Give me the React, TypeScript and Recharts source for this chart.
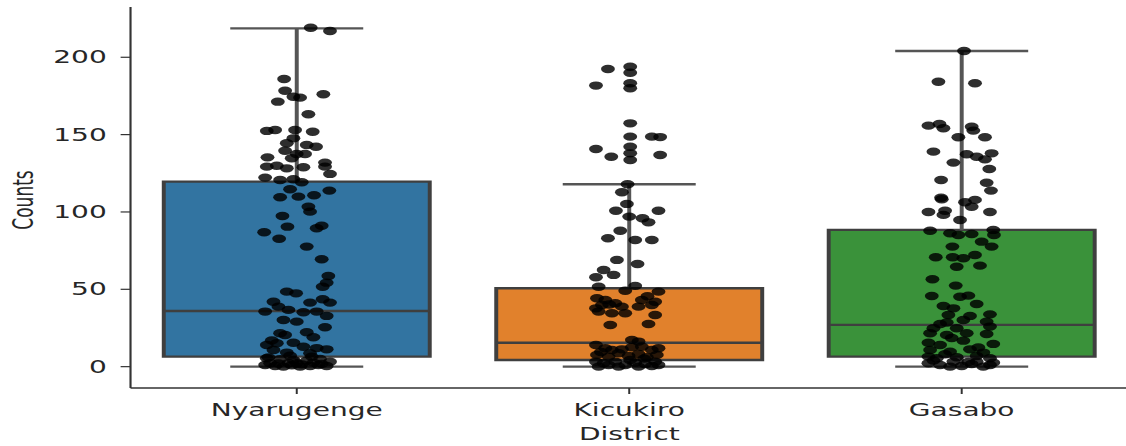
import { ComposedChart, XAxis, YAxis, Scatter, ReferenceArea, ReferenceLine } from "recharts";

// categories + box stats
const districts = ["Nyarugenge", "Kicukiro", "Gasabo"];
const boxColors = ["#3274a1", "#e1812c", "#3a923a"];
const whiskerLow = [0, 0, 0];
const q1 = [6.5, 4.3, 6.5];
const median = [36, 15.5, 27];
const q3 = [119.6, 50.7, 88.4];
const whiskerHigh = [218.7, 117.9, 204.1];
const yTicks = [0, 50, 100, 150, 200];

// strip points: counts and horizontal jitter (in category units)
const nyarugengeCounts = [
  219.1, 217, 186, 178.4, 174.5, 173.9, 176.1, 171.3, 163.2, 152.4, 153, 153, 151.9, 147.6, 144.4, 143.3,
  142.2, 139.6, 137.5, 137.5, 135.3, 134.7, 131.9, 129.3, 129.9, 128.2, 128.9, 129.3, 124.6, 122.2, 120.7,
  121.1, 119.2, 114.7, 113.8, 109.5, 109.9, 110.8, 103.4, 100.2, 97.4, 91.1, 89.5, 90.5, 86.9, 82.7, 77.6,
  69.4, 58.6, 54.3, 51.7, 48.5, 47.4, 42, 41.4, 43.6, 41.4, 38.8, 35.6, 36.7, 35.2, 35.6, 32.8, 30.2, 29.1,
  25.5, 21.6, 22.2, 20.5, 19, 14, 15.1, 15.5, 12.9, 11.2, 10.8, 9.1, 8.7, 5.4, 4.8, 4.3, 3.9, 5, 3.2,
  1.1, 0.4, 0, 0.9, 0, 0.4, 1.1, 0.4, 2.2, 2.2, 2.6, 2.2, 6, 2, 7, 1.5, 6.5, 1.8, 12, 17,
];
const nyarugengeJitter = [
  0.042, 0.1, -0.038, -0.035, -0.01, 0.01, 0.08, -0.057, 0.035, -0.09, -0.065, -0.005, 0.048, -0.01, -0.03, 0.03,
  0.058, -0.035, 0, 0.025, -0.088, -0.015, 0.085, -0.09, -0.06, -0.03, 0.02, 0.085, 0.1, -0.095, -0.05,
  -0.01, 0.015, -0.02, 0.098, -0.05, 0.005, 0.052, 0.035, 0.04, -0.043, 0.075, 0.06, -0.028, -0.098, -0.053, 0.03,
  0.075, 0.095, 0.09, 0.078, -0.03, -0.002, -0.07, 0.04, 0.078, 0.1, -0.055, -0.095, -0.025, 0.02, 0.06, 0.09, -0.04, 0,
  0.085, -0.05, 0.03, -0.035, 0.05, -0.09, -0.06, -0.01, 0.02, 0.09, -0.07, -0.03, 0.04, -0.09, -0.05, -0.01, 0.03, 0.07, 0.1,
  -0.095, -0.065, -0.04, -0.015, 0.01, 0.04, 0.065, 0.09, -0.08, -0.025, 0.05, 0, -0.085, -0.055, -0.02, 0.015, 0.045, 0.075, 0.06, -0.075,
];

const kicukiroCounts = [
  192.4, 193.9, 190, 183.2, 180, 181.7, 157.3, 148.7, 142.2, 137.9, 133.6, 148.7, 148.4, 140.7, 135.7, 136.8,
  117.9, 112.7, 105.2, 100.8, 100.8, 97, 95.9, 93.3, 87.9, 83, 81.9, 81.9, 69, 66.4, 62.5, 57.8, 59.3, 51.7,
  52.2, 49.1, 48.5, 44.2, 43.1, 43.1, 42, 41, 37.7, 39.9, 38.8, 38.8, 39.9, 35.6, 34.5, 34.5, 33.4, 26.9, 27.6,
  17.3, 16.2, 14, 11.9, 10.8, 11.2, 12.5, 12.9, 10.8, 11.9, 7.6, 6.5, 8.7, 6.9, 8.2, 6.1, 7.6,
  3.2, 2.2, 3.2, 1.1, 2.6, 1.7, 3.2, 0, 0, 0, 0.4, 1.1, 4.3, 1.1, 45.5, 40.2, 5.2, 9.5,
];
const kicukiroJitter = [
  -0.064, 0.003, 0.003, 0.003, 0.003, -0.1, 0.003, 0.003, 0.003, 0.003, 0.003, 0.068, 0.093, -0.1, -0.054, 0.093,
  -0.005, -0.022, -0.007, -0.04, 0.088, 0, 0.04, 0.058, -0.027, -0.064, 0.018, 0.068, -0.037, 0.025, -0.077, -0.1, -0.047, -0.092,
  0.018, -0.012, 0.088, -0.097, -0.072, 0.038, 0.078, -0.042, -0.1, -0.082, -0.022, 0.028, 0.068, -0.092, -0.052, -0.012, 0.078, -0.057, 0.058,
  0.008, 0.028, -0.1, -0.072, -0.052, -0.022, 0.008, 0.038, 0.068, 0.088, -0.097, -0.062, -0.032, -0.002, 0.028, 0.053, 0.083,
  -0.1, -0.077, -0.042, -0.012, 0.018, 0.048, 0.078, -0.092, -0.032, 0.028, 0.068, -0.062, 0.003, 0.088, 0.055, -0.06, 0.045, -0.085,
];

const gasaboCounts = [
  204.1, 184.2, 183.2, 155.8, 156.9, 154.1, 155.1, 152.6, 148.3, 148.3, 139, 137.3, 135.7, 137.9, 134, 131.9,
  127.8, 120.7, 118.9, 113.8, 109.2, 108.2, 106.3, 107.8, 103.4, 100, 100.8, 98.1, 100, 94.8, 87.9, 86.2, 85.1,
  85.8, 88.4, 85.1, 80.8, 77.6, 77.6, 70.7, 70.7, 70.1, 72.2, 64.6, 65.3, 56.5, 52.4, 45.7, 45.2, 45.9, 39.2,
  40.5, 37.7, 33.4, 32.8, 33.8, 30.2, 28.5, 29.1, 24.8, 27.6, 24.8, 25.9, 21.6, 20.5, 21.6, 21.1, 15.5, 16.8,
  14.7, 14, 10.8, 9.7, 11.2, 9.1, 6.5, 5.4, 6.1, 6.9, 5.4, 2.2, 1.1, 0, 0.4, 1.7, 0, 2.6, 3.9, 3.2, 3.2, 1.1,
  18.5, 12.4, 8, 3,
];
const gasaboJitter = [
  0.007, -0.07, 0.04, -0.1, -0.067, -0.055, 0.03, 0.035, 0.07, -0.01, -0.085, 0.015, 0.045, 0.09, 0.07, -0.025,
  0.083, -0.062, 0.075, 0.088, -0.062, -0.06, 0.01, 0.04, 0.03, -0.1, -0.05, -0.055, 0.085, -0.005, -0.095, -0.035, -0.01,
  0.03, 0.095, 0.097, 0.06, -0.028, 0.09, -0.078, -0.027, 0.005, 0.04, -0.015, 0.055, -0.088, -0.018, -0.09, -0.005, 0.02, -0.055,
  0.045, -0.025, -0.04, 0.025, 0.085, 0.005, -0.045, 0.075, -0.085, -0.065, -0.015, 0.085, -0.095, -0.045, 0.015, 0.075, -0.1, 0.005,
  0.095, -0.065, -0.095, -0.035, 0.025, 0.065, -0.1, -0.075, -0.015, 0.045, 0.085, -0.1, -0.065, -0.035, 0, 0.03, 0.065, 0.095, -0.085, -0.025, 0.045, 0.085,
  -0.03, 0.05, -0.05, 0.02,
];

const allCounts = [nyarugengeCounts, kicukiroCounts, gasaboCounts];
const allJitter = [nyarugengeJitter, kicukiroJitter, gasaboJitter];

// the reference image is stretched horizontally, so draw narrow and scale in x
const SX = 1.65;
const W = 690;
const H = 446;
const FONT = "DejaVu Sans";
const EDGE = "#3f3f3f";
const WHISKER = "#555";

const Dot = (p: any) => <circle cx={p.cx} cy={p.cy} r={4.2} fill="#000" fillOpacity={0.82} />;

export default function App() {
  const stripData = allCounts.map((vals, i) => vals.map((v, k) => ({ x: i + allJitter[i][k], y: v })));

  return (
    <div style={{ position: "fixed", left: 0, top: 0, width: 1126, height: H, overflow: "hidden", background: "#fff" }}>
      <div style={{ width: W, height: H, transform: `scaleX(${SX})`, transformOrigin: "0 0" }}>
        <ComposedChart width={W} height={H} margin={{ top: 7, right: 6.4, bottom: 0, left: 0 }} style={{ fontFamily: FONT }}>
          <XAxis
            dataKey="x"
            type="number"
            domain={[-0.5, 2.5]}
            ticks={[0, 1, 2]}
            allowDataOverflow
            tickFormatter={(v) => districts[Math.round(v)]}
            tick={{ fill: "#262626", fontSize: 17, fontFamily: FONT }}
            tickSize={6}
            tickMargin={10.4}
            height={58}
            axisLine={{ stroke: "#333", strokeWidth: 1.3 }}
            tickLine={{ stroke: "#333", strokeWidth: 1.2 }}
            label={() => (
              <text x={381.4} y={440} textAnchor="middle" fill="#262626" fontSize={17} fontFamily={FONT}>
                District
              </text>
            )}
          />
          <XAxis xAxisId="top" dataKey="x" type="number" orientation="top" domain={[-0.5, 2.5]} height={0}
            tick={false} tickLine={false} axisLine={{ stroke: "#333", strokeWidth: 1.3 }} />
          <YAxis
            dataKey="y"
            type="number"
            domain={[-13.8, 232.5]}
            ticks={yTicks}
            allowDataOverflow
            width={79.1}
            tick={{ fill: "#262626", fontSize: 17, fontFamily: FONT }}
            tickSize={6}
            tickMargin={8.4}
            axisLine={{ stroke: "#333", strokeWidth: 1.3 }}
            tickLine={{ stroke: "#333", strokeWidth: 1.2 }}
            label={() => (
              <text x={20.2} y={200} transform="rotate(-90, 20.2, 200)" textAnchor="middle" fill="#262626" fontSize={17} fontFamily={FONT}>
                Counts
              </text>
            )}
          />

          {districts.map((d, i) => (
            <ReferenceArea key={`box-${d}`} x1={i - 0.4} x2={i + 0.4} y1={q1[i]} y2={q3[i]}
              fill={boxColors[i]} fillOpacity={1} stroke={EDGE} strokeWidth={2.4} />
          ))}
          {districts.map((d, i) => (
            <ReferenceLine key={`wh-${d}`} segment={[{ x: i, y: q3[i] }, { x: i, y: whiskerHigh[i] }]} stroke={WHISKER} strokeWidth={2.4} />
          ))}
          {districts.map((d, i) => (
            <ReferenceLine key={`wl-${d}`} segment={[{ x: i, y: whiskerLow[i] }, { x: i, y: q1[i] }]} stroke={WHISKER} strokeWidth={2.4} />
          ))}
          {districts.map((d, i) => (
            <ReferenceLine key={`ch-${d}`} segment={[{ x: i - 0.2, y: whiskerHigh[i] }, { x: i + 0.2, y: whiskerHigh[i] }]} stroke={WHISKER} strokeWidth={2.4} />
          ))}
          {districts.map((d, i) => (
            <ReferenceLine key={`cl-${d}`} segment={[{ x: i - 0.2, y: whiskerLow[i] }, { x: i + 0.2, y: whiskerLow[i] }]} stroke={WHISKER} strokeWidth={2.4} />
          ))}
          {districts.map((d, i) => (
            <ReferenceLine key={`md-${d}`} segment={[{ x: i - 0.4, y: median[i] }, { x: i + 0.4, y: median[i] }]} stroke={EDGE} strokeWidth={2.4} />
          ))}

          {districts.map((d, i) => (
            <Scatter key={`pts-${d}`} name={d} data={stripData[i]} shape={Dot} isAnimationActive={false} />
          ))}
        </ComposedChart>
      </div>
    </div>
  );
}
